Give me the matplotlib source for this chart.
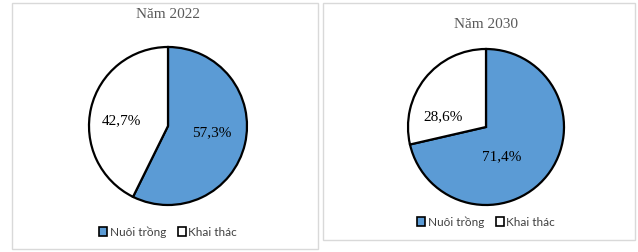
import numpy as np
import matplotlib.pyplot as plt
from matplotlib.patches import Patch, Rectangle

categories = ["Nuôi trồng", "Khai thác"]
years = ["Năm 2022", "Năm 2030"]
share_2022 = [57.3, 42.7]
share_2030 = [71.4, 28.6]

colors = ["#5B9BD5", "#FFFFFF"]
W, H = 638, 252

fig = plt.figure(figsize=(W / 100, H / 100), dpi=100)

def px_rect(x0, y0, x1, y1):
    # pixel box (top-left origin) -> figure fraction
    return [x0 / W, 1 - y1 / H, (x1 - x0) / W, (y1 - y0) / H]

# panel frames, behind the axes
for box in [(12, 3, 318, 249), (323, 3, 635, 240)]:
    l, b, w, h = px_rect(*box)
    fig.patches.append(Rectangle((l, b), w, h, transform=fig.transFigure, zorder=-5,
                                 facecolor="white", edgecolor="#D9D9D9", lw=1))

# layout per panel: pie center/radius in px, title y, legend y, label (angle, dist)
panels = [
    dict(vals=share_2022, title=years[0], cx=168, cy=126, r=79, ty=15, ly=232,
         lab=[(-9, 0.56), (173, 0.6)]),
    dict(vals=share_2030, title=years[1], cx=486, cy=127, r=78, ty=25, ly=222,
         lab=[(-63, 0.43), (167, 0.56)]),
]

for p in panels:
    ax = fig.add_axes(px_rect(p["cx"] - p["r"], p["cy"] - p["r"],
                              p["cx"] + p["r"], p["cy"] + p["r"]))
    ax.patch.set_alpha(0)
    wedges, _ = ax.pie(p["vals"], colors=colors, startangle=90, counterclock=False,
                       wedgeprops=dict(edgecolor="black", linewidth=1.6))
    for wdg in wedges:
        wdg.set_clip_on(False)
    ax.set_xlim(-1, 1)
    ax.set_ylim(-1, 1)
    ax.set_aspect("equal")
    ax.axis("off")
    for v, (ang, d) in zip(p["vals"], p["lab"]):
        a = np.deg2rad(ang)
        ax.text(d * np.cos(a), d * np.sin(a), f"{v:.1f}".replace(".", ",") + "%",
                ha="center", va="center", fontsize=11, family="Liberation Serif",
                color="black")
    fig.text(p["cx"] / W, 1 - p["ty"] / H, p["title"], ha="center", va="center",
             fontsize=11, family="Liberation Serif", color="#595959")
    handles = [Patch(facecolor=c, edgecolor="black", lw=1.2) for c in colors]
    fig.legend(handles, categories, loc="center", bbox_to_anchor=(p["cx"] / W, 1 - p["ly"] / H),
               ncol=2, frameon=False, prop=dict(family="Lato", size=8.5),
               handlelength=0.7, handleheight=0.7, handletextpad=0.2, columnspacing=1.0,
               labelcolor="#404040")

fig.savefig("out.png", dpi=100, facecolor="white")
